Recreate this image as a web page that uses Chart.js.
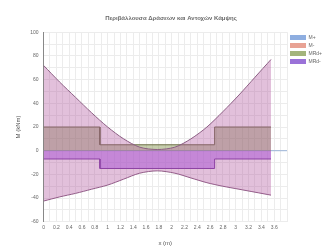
<!DOCTYPE html>
<html>
<head>
<meta charset="utf-8">
<script src="https://cdn.jsdelivr.net/npm/chart.js@4/dist/chart.umd.min.js"></script>
<style>
  html, body { margin: 0; padding: 0; background: #fff; }
  #wrap { width: 334px; height: 249px; }
</style>
</head>
<body>
<div id="wrap"><canvas id="envChart" width="334" height="249"></canvas></div>
<script>
// envelope of design moments
const xEnv = [0, 0.25, 0.5, 0.75, 1.0, 1.25, 1.5, 1.775, 2.05, 2.3, 2.55, 2.8, 3.05, 3.3, 3.55];
const mPos = [72, 58, 45, 32, 20, 10, 3, 1, 3, 10, 20, 33, 47, 62, 77];
const mNeg = [-42.5, -39, -36, -32.5, -29, -24, -19, -17, -19, -23, -27, -30, -32.5, -35, -37.5];

// stepped resistance diagrams
const xStep = [0, 0.88, 0.88, 2.67, 2.67, 3.55];
const mrdPos = [20, 20, 5, 5, 20, 20];
const mrdNeg = [-7, -7, -15, -15, -7, -7];

const xZero = [0, 3.8];
const mZero = [0, 0];

const legendNames = ['M+', 'M-', 'MRd+', 'MRd-'];
const legendColors = ['#8eaee0', '#e8a294', '#a3b47c', '#9a72d8'];

const pts = (xs, ys) => xs.map((x, i) => ({ x: x, y: ys[i] }));

function initChart() {
    const ctx = document.getElementById('envChart').getContext('2d');
    new Chart(ctx, {
        type: 'line',
        data: {
            datasets: [
                {
                    label: legendNames[0],
                    data: pts(xEnv, mPos),
                    borderColor: '#8c5f84',
                    borderWidth: 1,
                    backgroundColor: 'rgba(175, 80, 155, 0.36)',
                    fill: '+1',
                    pointRadius: 0,
                    tension: 0.3
                },
                {
                    label: legendNames[1],
                    data: pts(xEnv, mNeg),
                    borderColor: '#8c5f84',
                    borderWidth: 1,
                    backgroundColor: 'rgba(0,0,0,0)',
                    fill: false,
                    pointRadius: 0,
                    tension: 0.3
                },
                {
                    label: legendNames[2],
                    data: pts(xStep, mrdPos),
                    borderColor: '#6d7048',
                    borderWidth: 1,
                    backgroundColor: 'rgba(120, 135, 60, 0.42)',
                    fill: 'origin',
                    pointRadius: 0
                },
                {
                    label: legendNames[3],
                    data: pts(xStep, mrdNeg),
                    borderColor: '#7a3aa8',
                    borderWidth: 1,
                    backgroundColor: 'rgba(165, 80, 245, 0.5)',
                    fill: 'origin',
                    pointRadius: 0
                },
                {
                    label: 'zero',
                    data: pts(xZero, mZero),
                    borderColor: '#9cb4d8',
                    borderWidth: 1,
                    fill: false,
                    pointRadius: 0
                }
            ]
        },
        options: {
            responsive: false,
            devicePixelRatio: 1,
            animation: false,
            layout: { padding: { left: 10, right: 2, bottom: 2 } },
            plugins: {
                title: {
                    display: true,
                    text: 'Περιβάλλουσα Δράσεων και Αντοχών Κάμψης',
                    color: '#6a6a6a',
                    font: { family: 'Liberation Sans', size: 6 },
                    padding: { top: 15, bottom: 10 }
                },
                legend: {
                    position: 'right',
                    align: 'start',
                    title: {
                        display: true,
                        text: ' ',
                        font: { size: 5 },
                        padding: { top: 26, bottom: 0 }
                    },
                    labels: {
                        boxWidth: 16,
                        boxHeight: 5,
                        padding: 3,
                        color: '#666',
                        font: { family: 'Liberation Sans', size: 5 },
                        generateLabels: () => legendNames.map((n, i) => ({
                            text: n,
                            fillStyle: legendColors[i],
                            strokeStyle: legendColors[i],
                            lineWidth: 0,
                            datasetIndex: i
                        }))
                    }
                },
                tooltip: { enabled: false }
            },
            scales: {
                x: {
                    type: 'linear',
                    min: 0,
                    max: 3.8,
                    ticks: {
                        stepSize: 0.1,
                        autoSkip: false,
                        maxRotation: 0,
                        color: '#666',
                        font: { family: 'Liberation Sans', size: 5 },
                        callback: (v) => {
                            const k = Math.round(v * 10);
                            if (k % 2 !== 0 || k > 36) return '';
                            return String(+(k / 10).toFixed(1));
                        }
                    },
                    grid: { color: '#ececec', lineWidth: 1, drawTicks: false },
                    border: { display: false },
                    title: {
                        display: true,
                        text: 'x (m)',
                        color: '#555',
                        font: { family: 'Liberation Sans', size: 6 },
                        padding: { top: 6, bottom: 0 }
                    }
                },
                y: {
                    min: -60,
                    max: 100,
                    ticks: {
                        stepSize: 10,
                        color: '#666',
                        font: { family: 'Liberation Sans', size: 5 },
                        padding: 5,
                        callback: (v) => (v % 20 === 0 ? String(v) : '')
                    },
                    grid: { color: '#ececec', lineWidth: 1, drawTicks: false },
                    border: { display: true, color: '#888' },
                    title: {
                        display: true,
                        text: 'M (kNm)',
                        color: '#555',
                        font: { family: 'Liberation Sans', size: 6 },
                        padding: { top: 5, bottom: 3 }
                    }
                }
            }
        }
    });
}

window.onload = initChart;
</script>
</body>
</html>
